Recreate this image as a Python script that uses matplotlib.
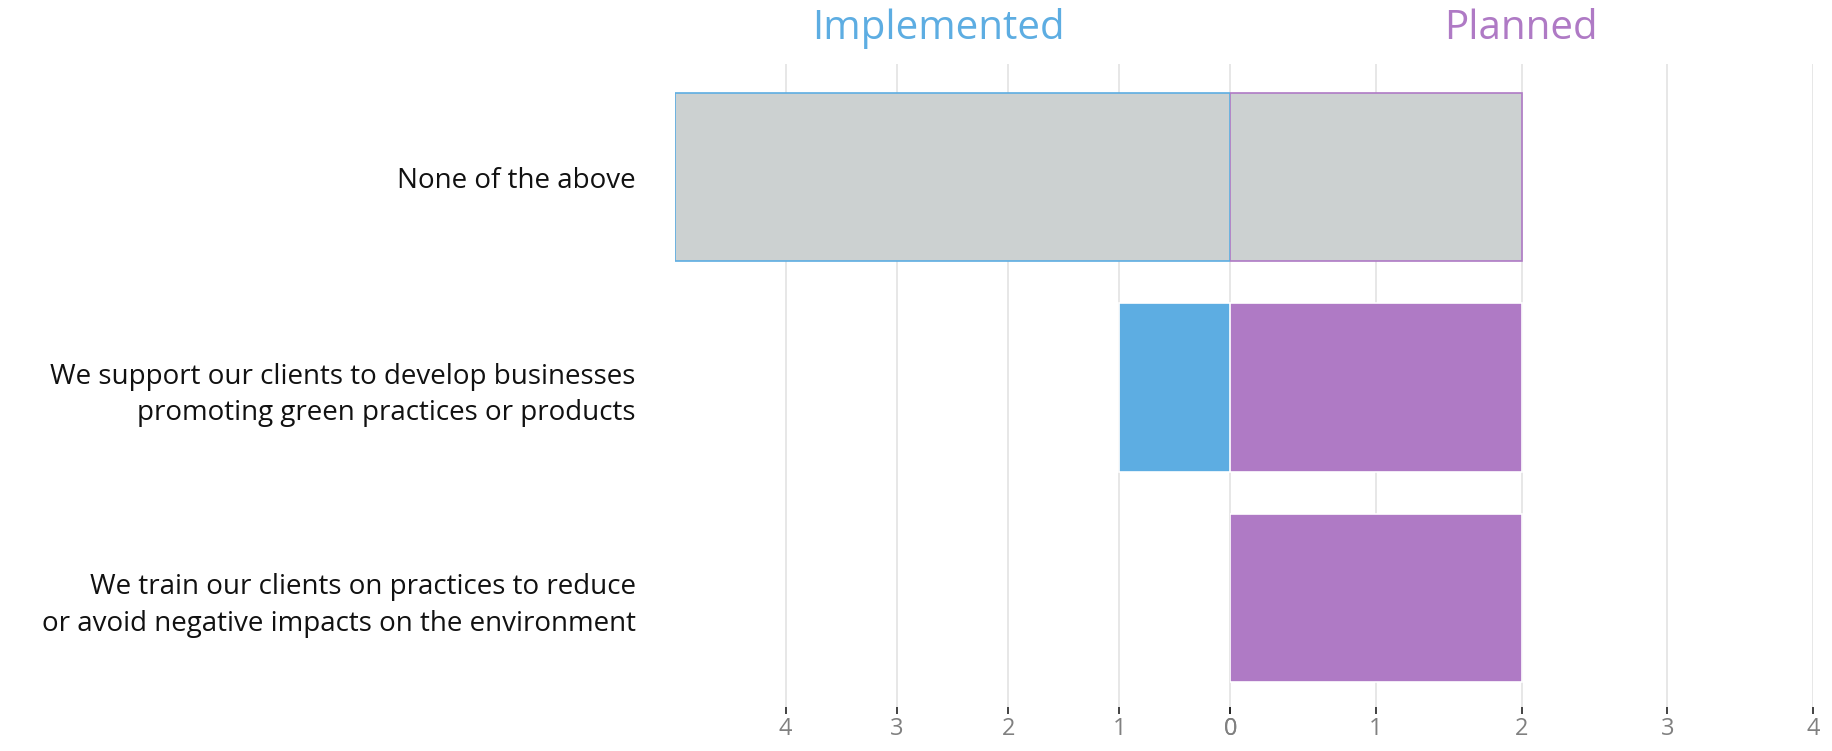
import matplotlib.pyplot as plt
from matplotlib.ticker import FixedLocator

categories = [
    "We train our clients on practices to reduce\nor avoid negative impacts on the environment",
    "We support our clients to develop businesses\npromoting green practices or products",
    "None of the above",
]
implemented = [0, 1, 5]
planned = [2, 2, 2]
left_ticks = [0, 1, 2, 3, 4]
right_ticks = [0, 1, 2, 3, 4]

BLUE = "#5DADE2"
PURPLE = "#AF7AC5"
GRAY = "#CCD1D1"
GRID = "#E3E3E3"
FONT = ["Open Sans", "DejaVu Sans"]

plt.rcParams["font.family"] = FONT

fig = plt.figure(figsize=(18.33, 7.51), dpi=100)
bottom, top = 0.058, 0.915
ax_l = fig.add_axes([0.368, bottom, 0.6713 - 0.368, top - bottom])
ax_r = fig.add_axes([0.6713, bottom, 0.9891 - 0.6713, top - bottom])

ypos = list(range(len(categories)))
bar_h = 0.8

for i, (cat, v_imp, v_pl) in enumerate(zip(categories, implemented, planned)):
    none_row = cat == "None of the above"
    if v_imp > 0:
        ax_l.barh(ypos[i], v_imp, height=bar_h,
                  color=GRAY if none_row else BLUE,
                  edgecolor=BLUE if none_row else "white",
                  linewidth=1.2, zorder=3)
    if v_pl > 0:
        ax_r.barh(ypos[i], v_pl, height=bar_h,
                  color=GRAY if none_row else PURPLE,
                  edgecolor=PURPLE if none_row else "white",
                  linewidth=1.2, zorder=3)

ylim = (-0.52, 2.538)
ax_l.set_xlim(5, 0)
ax_r.set_xlim(0, 4)
for ax, ticks in ((ax_l, left_ticks), (ax_r, right_ticks)):
    ax.set_ylim(*ylim)
    ax.xaxis.set_major_locator(FixedLocator(ticks))
    ax.grid(axis="x", color=GRID, linewidth=1.2, zorder=0)
    for s in ax.spines.values():
        s.set_visible(False)
    ax.tick_params(axis="x", colors="#222222", labelcolor="#808080",
                   labelsize=17, length=5, width=1.2, pad=2)
    ax.set_facecolor("none")

ax_l.set_yticks(ypos)
ax_l.set_yticklabels(categories, fontsize=20, color="#111111", ha="right",
                     linespacing=1.4)
ax_l.tick_params(axis="y", length=0, pad=28)
ax_r.set_yticks([])

fig.text(0.512, 0.962, "Implemented", color=BLUE, fontsize=29,
         ha="center", va="center")
fig.text(0.830, 0.962, "Planned", color=PURPLE, fontsize=29,
         ha="center", va="center")

fig.savefig("out.png", dpi=100, facecolor="white")
